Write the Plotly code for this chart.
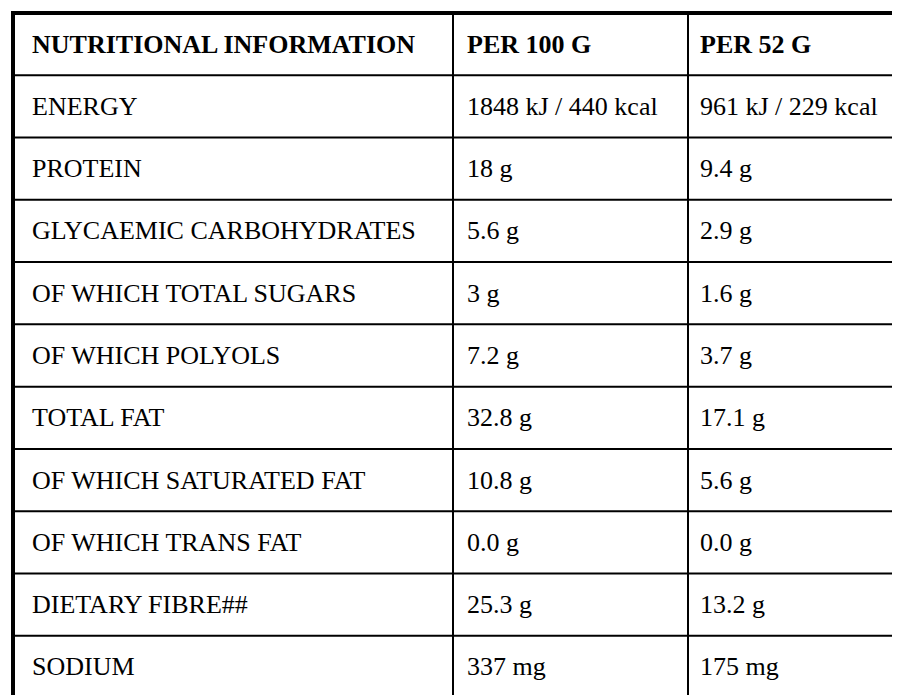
import plotly.graph_objects as go

header = ["NUTRITIONAL INFORMATION", "PER 100 G", "PER 52 G"]
nutrients = ["ENERGY", "PROTEIN", "GLYCAEMIC CARBOHYDRATES", "OF WHICH TOTAL SUGARS",
             "OF WHICH POLYOLS", "TOTAL FAT", "OF WHICH SATURATED FAT",
             "OF WHICH TRANS FAT", "DIETARY FIBRE##", "SODIUM"]
per_100g = ["1848 kJ / 440 kcal", "18 g", "5.6 g", "3 g", "7.2 g", "32.8 g",
            "10.8 g", "0.0 g", "25.3 g", "337 mg"]
per_52g = ["961 kJ / 229 kcal", "9.4 g", "2.9 g", "1.6 g", "3.7 g", "17.1 g",
           "5.6 g", "0.0 g", "13.2 g", "175 mg"]

# layout in pixels
col_edges = [5, 445, 680, 895]
text_x = [22, 457, 690]
top, bottom = 5, 690
n_rows = len(nutrients) + 1
row_h = (bottom - top) / n_rows

rows = [["<b>%s</b>" % h for h in header]] + [list(r) for r in zip(nutrients, per_100g, per_52g)]

fig = go.Figure()
for i, row in enumerate(rows):
    yc = top + row_h * (i + 0.5)
    for j, txt in enumerate(row):
        fig.add_annotation(x=text_x[j], y=yc, text=txt, showarrow=False,
                           xanchor="left", yanchor="middle", xref="x", yref="y",
                           font=dict(family="Liberation Serif", size=26, color="black"))

for i in range(1, n_rows):
    y = top + row_h * i
    fig.add_shape(type="line", x0=col_edges[0], x1=col_edges[-1], y0=y, y1=y,
                  line=dict(color="black", width=2))
for x in col_edges[1:-1]:
    fig.add_shape(type="line", x0=x, x1=x, y0=top, y1=bottom,
                  line=dict(color="black", width=2))
fig.add_shape(type="rect", x0=col_edges[0], x1=col_edges[-1], y0=top, y1=bottom,
              line=dict(color="black", width=4))

fig.update_xaxes(range=[0, 900], visible=False)
fig.update_yaxes(range=[695, 0], visible=False)
fig.update_layout(width=900, height=695, margin=dict(l=0, r=0, t=0, b=0),
                  paper_bgcolor="white", plot_bgcolor="white")
fig.write_html("out.html")
